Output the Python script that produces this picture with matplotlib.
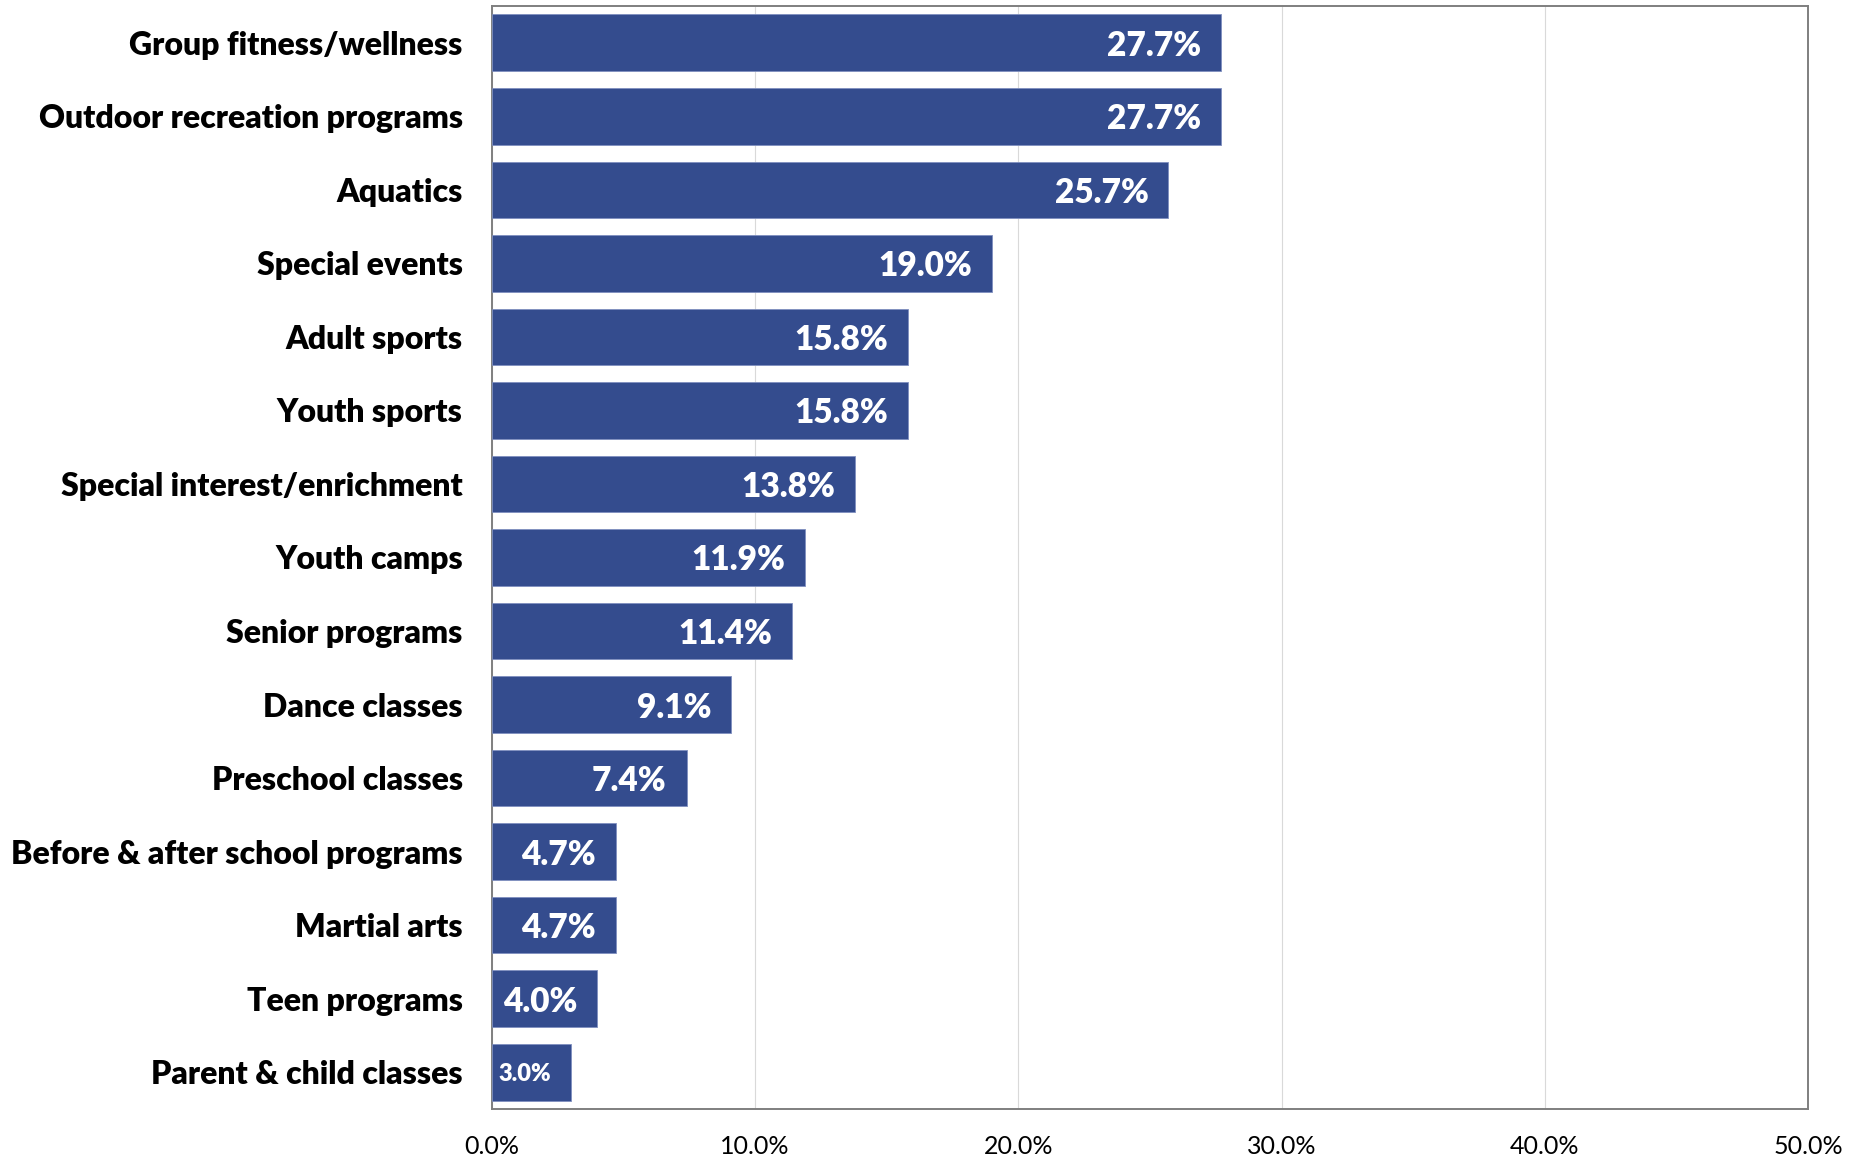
import matplotlib
matplotlib.use("Agg")
import matplotlib.pyplot as plt
from matplotlib.ticker import FuncFormatter
from matplotlib.transforms import offset_copy

categories = [
    "Group fitness/wellness",
    "Outdoor recreation programs",
    "Aquatics",
    "Special events",
    "Adult sports",
    "Youth sports",
    "Special interest/enrichment",
    "Youth camps",
    "Senior programs",
    "Dance classes",
    "Preschool classes",
    "Before & after school programs",
    "Martial arts",
    "Teen programs",
    "Parent & child classes",
]
values = [27.7, 27.7, 25.7, 19.0, 15.8, 15.8, 13.8, 11.9, 11.4, 9.1, 7.4, 4.7, 4.7, 4.0, 3.0]
x_ticks = [0, 10, 20, 30, 40, 50]

plt.rcParams["font.family"] = ["Lato", "DejaVu Sans"]

fig = plt.figure(figsize=(18.62, 11.60), dpi=100)
ax = fig.add_axes([0.2642, 0.044, 0.7068, 0.9508])

bar_color = "#344C8E"
y = list(range(len(categories)))
ax.barh(y, values, height=0.77, color=bar_color, edgecolor="#7F8FBF", linewidth=0.6, zorder=3)

ax.set_ylim(len(categories) - 0.5, -0.5)
ax.set_xlim(0, 50)
ax.set_xticks(x_ticks)
ax.xaxis.set_major_formatter(FuncFormatter(lambda v, p: f"{v:.1f}%"))
ax.grid(axis="x", color="#D9D9D9", linewidth=0.8, zorder=0)
ax.set_axisbelow(True)

ax.set_yticks(y)
ax.set_yticklabels(categories, fontsize=23, fontweight="heavy")
ax.tick_params(axis="y", length=0, pad=21)
ax.tick_params(axis="x", length=0, pad=19, labelsize=18)

for s in ax.spines.values():
    s.set_color("#7F7F7F")
    s.set_linewidth(1.4)

for yi, v in zip(y, values):
    size = 24 if v >= 3.5 else 17
    tr = offset_copy(ax.transData, fig=fig, x=-20, y=0, units="dots")
    ax.text(v, yi, f"{v:.1f}%", transform=tr, ha="right", va="center_baseline",
            color="white", fontsize=size, fontweight="heavy", zorder=4)

fig.savefig("out.png", dpi=100)
